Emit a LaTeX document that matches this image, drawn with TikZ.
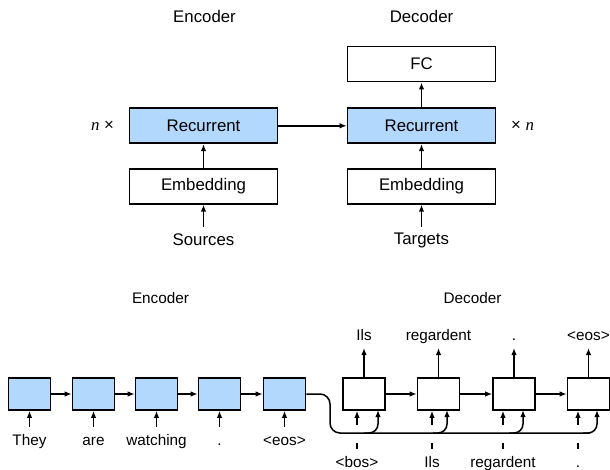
\documentclass[tikz,border=0pt]{standalone}
\usepackage{fontspec}
\setmainfont{Liberation Sans}
\newfontfamily\serifit{Liberation Serif}
\usetikzlibrary{arrows.meta}
\definecolor{rnnblue}{RGB}{178,216,253}
\tikzset{
  toplbl/.style={font=\fontsize{16.8}{18}\selectfont, inner sep=0pt},
  lbl/.style={font=\fontsize{15.3}{17}\selectfont, inner sep=0pt},
  bigbox/.style={draw, line width=1.6pt, minimum width=148pt, minimum height=35pt, inner sep=0pt, font=\fontsize{16.8}{18}\selectfont},
  cell/.style={draw, line width=1.6pt, minimum width=42pt, minimum height=32pt, inner sep=0pt},
  arr/.style={line width=1.5pt, -{Latex[length=7pt,width=5.5pt]}},
  plain/.style={line width=1.5pt}
}
\begin{document}
\begin{tikzpicture}[x=1pt,y=-1pt]
\useasboundingbox (0,0) rectangle (610,470);

% ---- upper diagram: layered view ----
\node[toplbl] (encT) at (204.5,16) {Encoder};
\node[toplbl] (decT) at (421.5,16) {Decoder};

\node[bigbox] (fc)   at (421.5,64.2)  {FC};
\node[bigbox, fill=rnnblue] (erec) at (203.5,125.8) {Recurrent};
\node[bigbox, fill=rnnblue] (drec) at (421.5,125.8) {Recurrent};
\node[bigbox] (eemb) at (203.5,186.3) {Embedding};
\node[bigbox] (demb) at (421.5,186.3) {Embedding};

\node[toplbl] (src) at (203.5,240) {Sources};
\node[toplbl] (tgt) at (421.5,240) {Targets};

\node[toplbl] (nl) at (102.5,126) {{\serifit\itshape n} ×};
\node[toplbl] (nr) at (522.5,126) {× {\serifit\itshape n}};

\coordinate (srcT) at (203.5,227);
\coordinate (tgtT) at (421.5,227);
\draw[arr] (srcT) -- (eemb.south);
\draw[arr] (tgtT) -- (demb.south);
\draw[arr] (eemb.north) -- (erec.south);
\draw[arr] (demb.north) -- (drec.south);
\draw[arr] (erec.east) -- (drec.west);
\draw[arr] (drec.north) -- (fc.south);

% ---- lower diagram: unrolled sequence ----
\node[lbl] (encB) at (160.5,298) {Encoder};
\node[lbl] (decB) at (472.5,298) {Decoder};

% encoder cells
\foreach \i/\x/\w in {1/29.5/They, 2/93.5/are, 3/156.5/watching, 4/219.5/., 5/284.5/{<eos>}} {
  \node[cell, fill=rnnblue] (e\i) at (\x,394) {};
  \node[lbl, anchor=base] (ew\i) at (\x,445) {\w};
  \coordinate (ei\i) at (\x,427);
  \draw[arr] (ei\i) -- (e\i.south);
}
\foreach \a/\b in {1/2, 2/3, 3/4, 4/5} \draw[arr] (e\a.east) -- (e\b.west);

% decoder cells
\node[cell] (d1) at (364,394) {};
\node[cell] (d2) at (438.5,394) {};
\node[cell] (d3) at (514,394) {};
\node[cell] (d4) at (588.5,394) {};

\foreach \i/\x/\w in {1/364/Ils, 2/438.5/regardent, 3/514/., 4/588.5/{<eos>}} {
  \node[lbl, anchor=base] (o\i) at (\x,340) {\w};
  \coordinate (ot\i) at (\x,348);
  \draw[arr] (d\i.north) -- (ot\i);
}
\foreach \a/\b in {1/2, 2/3, 3/4} \draw[arr] (d\a.east) -- (d\b.west);

% decoder inputs: broken arrow crossing the context line
\foreach \i/\x/\w in {1/357/{<bos>}, 2/432/Ils, 3/503/regardent, 4/578/.} {
  \node[lbl, anchor=base] (iw\i) at (\x,467) {\w};
  \coordinate (tk\i) at (\x,443);
  \draw[plain] (tk\i) -- ++(0,5.5);
  \coordinate (ia\i) at (\x,425);
  \draw[arr] (ia\i) -- (ia\i |- d\i.south);
}

% context: last encoder state fed to every decoder step
\coordinate (ctx) at (330,433);
\draw[plain, rounded corners=10pt] (e5.east) -| (ctx) -- (590,433);
\foreach \i/\x in {1/378, 2/447, 3/523, 4/597} {
  \draw[arr, rounded corners=9pt] (\x-14,433) -| (\x,410);
}
\end{tikzpicture}
\end{document}
